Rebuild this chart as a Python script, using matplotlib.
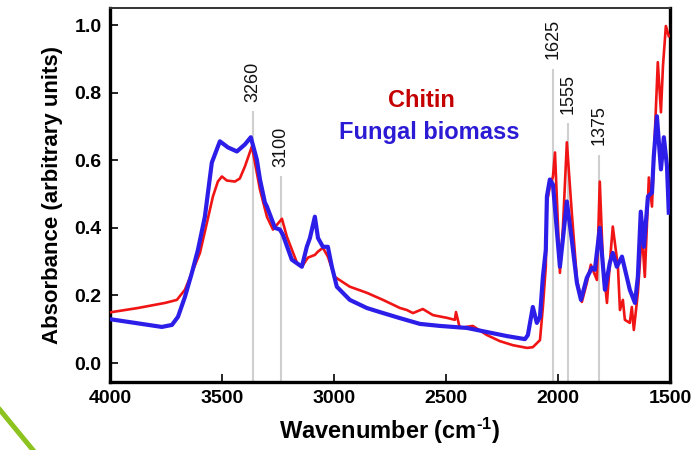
import matplotlib
matplotlib.use("Agg")
import matplotlib.pyplot as plt
from matplotlib.lines import Line2D

plt.rcParams['font.family'] = ['Liberation Sans', 'DejaVu Sans']
plt.rcParams['mathtext.fontset'] = 'custom'
plt.rcParams['mathtext.rm'] = 'Liberation Sans:bold'
plt.rcParams['mathtext.bf'] = 'Liberation Sans:bold'
plt.rcParams['mathtext.default'] = 'bf'

# ---- data ----
fungal_wn = [4000, 3768, 3723, 3696, 3665, 3634, 3607, 3576, 3545, 3509, 3473, 3433,
             3397, 3371, 3344, 3330, 3308, 3299, 3263, 3241, 3228, 3188, 3143, 3121,
             3107, 3085, 3071, 3049, 3027, 3009, 2987, 2929, 2853, 2795, 2705, 2616,
             2527, 2406, 2317, 2228, 2147, 2134, 2112, 2094, 2080, 2067, 2054, 2049,
             2036, 2022, 2005, 1991, 1978, 1960, 1938, 1915, 1897, 1871, 1848, 1835,
             1813, 1790, 1768, 1755, 1737, 1714, 1679, 1656, 1643, 1630, 1616, 1598,
             1580, 1572, 1558, 1540, 1527, 1513, 1505]
fungal_abs = [0.130, 0.107, 0.113, 0.137, 0.196, 0.267, 0.335, 0.433, 0.593, 0.656, 0.638, 0.626,
              0.647, 0.668, 0.602, 0.543, 0.475, 0.463, 0.400, 0.395, 0.380, 0.306, 0.285, 0.344,
              0.370, 0.433, 0.370, 0.344, 0.344, 0.285, 0.226, 0.187, 0.163, 0.151, 0.133, 0.116,
              0.110, 0.104, 0.092, 0.080, 0.071, 0.083, 0.166, 0.119, 0.137, 0.255, 0.335, 0.493,
              0.543, 0.528, 0.395, 0.285, 0.365, 0.478, 0.365, 0.237, 0.187, 0.252, 0.282, 0.276,
              0.400, 0.217, 0.297, 0.326, 0.285, 0.315, 0.217, 0.178, 0.255, 0.448, 0.344, 0.493,
              0.504, 0.611, 0.730, 0.573, 0.668, 0.582, 0.445]

chitin_wn = [4000, 3875, 3754, 3701, 3665, 3634, 3598, 3567, 3540, 3518, 3500, 3478,
             3442, 3420, 3397, 3366, 3330, 3299, 3272, 3232, 3210, 3165, 3143, 3116,
             3085, 3071, 3049, 3027, 2996, 2929, 2853, 2781, 2705, 2674, 2647, 2603,
             2558, 2496, 2460, 2455, 2438, 2380, 2317, 2259, 2201, 2138, 2112, 2080,
             2067, 2054, 2049, 2036, 2022, 2013, 2005, 1991, 1978, 1960, 1938, 1915,
             1893, 1871, 1853, 1844, 1826, 1813, 1799, 1781, 1768, 1755, 1732, 1723,
             1710, 1701, 1679, 1670, 1661, 1643, 1625, 1612, 1594, 1580, 1567, 1554,
             1540, 1531, 1518, 1505]
chitin_abs = [0.150, 0.163, 0.178, 0.187, 0.217, 0.267, 0.326, 0.415, 0.493, 0.537, 0.552, 0.540,
              0.537, 0.546, 0.582, 0.641, 0.513, 0.433, 0.395, 0.427, 0.374, 0.297, 0.285, 0.312,
              0.320, 0.330, 0.341, 0.315, 0.255, 0.226, 0.208, 0.187, 0.163, 0.157, 0.148, 0.160,
              0.142, 0.134, 0.128, 0.151, 0.104, 0.110, 0.083, 0.065, 0.053, 0.045, 0.047, 0.068,
              0.166, 0.285, 0.475, 0.522, 0.552, 0.623, 0.493, 0.267, 0.395, 0.653, 0.445, 0.246,
              0.181, 0.237, 0.291, 0.276, 0.246, 0.537, 0.297, 0.178, 0.297, 0.404, 0.285, 0.157,
              0.187, 0.128, 0.119, 0.166, 0.098, 0.208, 0.386, 0.255, 0.549, 0.463, 0.682, 0.890,
              0.742, 0.878, 0.997, 0.967]

peak_labels = ['3260', '3100', '1625', '1555', '1375']
peak_wn = [3362, 3237, 2022, 1955, 1817]      # where the marker lines sit on the drawn axis
peak_top = [0.745, 0.553, 0.870, 0.710, 0.617]

x_ticks = [4000, 3500, 3000, 2500, 2000, 1500]
y_ticks = [0.0, 0.2, 0.4, 0.6, 0.8, 1.0]

# ---- figure ----
fig = plt.figure(figsize=(7, 4.5), dpi=100)
ax = fig.add_axes([0.157, 0.151, 0.800, 0.831])
ax.set_xlim(4000, 1500)
ax.set_ylim(-0.056, 1.05)

ymin = ax.get_ylim()[0]
ax.vlines(peak_wn, ymin, peak_top, color='#cfcfcf', lw=1.5, zorder=1)
for lab, wn, top in zip(peak_labels, peak_wn, peak_top):
    ax.text(wn, top + 0.028, lab, rotation=90, ha='center', va='bottom',
            fontsize=13, color='#111111')

ax.plot(chitin_wn, chitin_abs, color='#f01414', lw=1.9, zorder=3)
ax.plot(fungal_wn, fungal_abs, color='#2c1ee8', lw=3.0, zorder=4)

ax.text(0.557, 0.754, 'Chitin', transform=ax.transAxes, ha='center', va='center',
        fontsize=17, fontweight='bold', color='#c40000')
ax.text(0.570, 0.668, 'Fungal biomass', transform=ax.transAxes, ha='center', va='center',
        fontsize=17, fontweight='bold', color='#2b1bd4')

ax.set_xticks(x_ticks)
ax.set_xticklabels([str(t) for t in x_ticks])
ax.set_yticks(y_ticks)
ax.set_yticklabels([f'{t:.1f}' for t in y_ticks])
ax.tick_params(axis='both', direction='in', length=6, width=1.2, labelsize=14, pad=6)
for lab in ax.get_xticklabels() + ax.get_yticklabels():
    lab.set_fontweight('bold')

for side in ['left', 'bottom', 'right']:
    ax.spines[side].set_linewidth(2.4)
    ax.spines[side].set_color('black')
ax.spines['top'].set_linewidth(1.4)
ax.spines['top'].set_color('#333333')

ax.set_xlabel(r'Wavenumber (cm$^{\text{-}1}$)', fontsize=17, fontweight='bold', labelpad=6)
ax.set_ylabel('Absorbance (arbitrary units)', fontsize=16, fontweight='bold', labelpad=8)

# decorative green stroke in the lower-left corner of the slide
fig.add_artist(Line2D([0.0, 0.047], [0.089, 0.0], transform=fig.transFigure,
                      color='#8cc31f', lw=3.6))

fig.savefig('out.png', dpi=100)
